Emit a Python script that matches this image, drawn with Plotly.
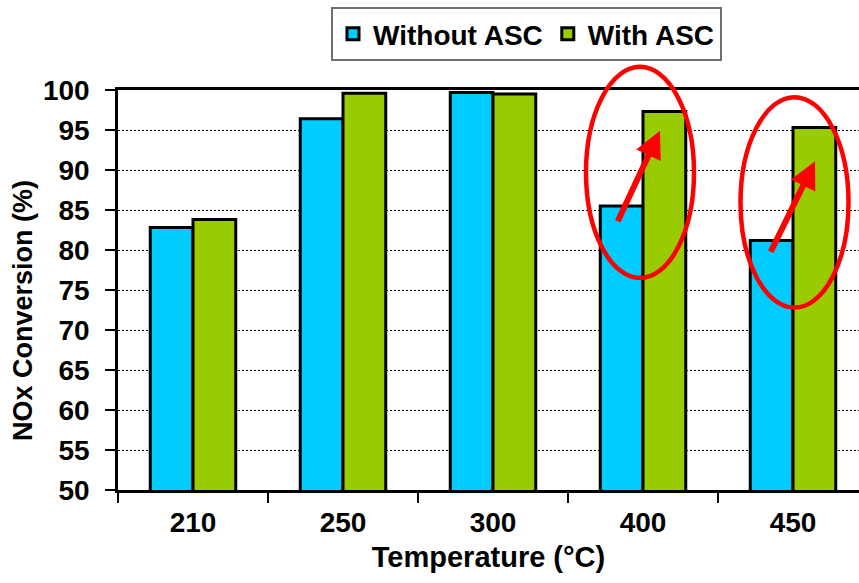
import plotly.graph_objects as go

# NOx conversion by temperature, with and without the ammonia slip catalyst
temperatures = ["210", "250", "300", "400", "450"]
without_asc = [82.8, 96.4, 99.7, 85.5, 81.2]
with_asc = [83.8, 99.6, 99.5, 97.3, 95.3]
y_ticks = list(range(50, 101, 5))

FONT = "Liberation Sans, Arial, sans-serif"
X_RANGE = [-0.5, 4.44]
Y_RANGE = [50, 100]


def to_paper_x(v):
    return (v - X_RANGE[0]) / (X_RANGE[1] - X_RANGE[0])


def to_paper_y(v):
    return (v - Y_RANGE[0]) / (Y_RANGE[1] - Y_RANGE[0])


fig = go.Figure()
fig.add_trace(go.Bar(
    x=temperatures, y=without_asc, name="Without ASC",
    marker=dict(color="#00CCFF", line=dict(color="black", width=3)),
))
fig.add_trace(go.Bar(
    x=temperatures, y=with_asc, name="With ASC",
    marker=dict(color="#99CC00", line=dict(color="black", width=3)),
))

# highlight the gain at the two hottest points: ring plus arrow
# (rings use paper coordinates so they may run past the top of the plot)
rings = [
    dict(x0=2.62, x1=3.34, y0=76.5, y1=102.9),
    dict(x0=3.65, x1=4.37, y0=72.8, y1=99.1),
]
for r in rings:
    fig.add_shape(
        type="circle", xref="paper", yref="paper", layer="above",
        x0=to_paper_x(r["x0"]), x1=to_paper_x(r["x1"]),
        y0=to_paper_y(r["y0"]), y1=to_paper_y(r["y1"]),
        line=dict(color="#FF0000", width=4.5),
    )

arrows = [
    dict(ax=2.827, ay=83.4, x=3.113, y=94.9),
    dict(ax=3.847, ay=79.6, x=4.147, y=91.1),
]
for a in arrows:
    fig.add_annotation(
        xref="x", yref="y", axref="x", ayref="y", text="",
        showarrow=True, arrowhead=2, arrowsize=0.9, arrowwidth=6,
        arrowcolor="#FF0000", standoff=0, **a,
    )

# y-axis title
fig.add_annotation(
    xref="paper", yref="paper", x=-95 / 741, y=0.4475,
    xanchor="center", yanchor="middle", textangle=-90, showarrow=False,
    text="NOx Conversion (%)",
    font=dict(size=27, family=FONT, weight="bold", color="black"),
)

fig.update_layout(
    width=859, height=583,
    margin=dict(l=118, r=0, t=90, b=93),
    paper_bgcolor="white", plot_bgcolor="white",
    barmode="group", bargap=0.43, bargroupgap=0,
    font=dict(family=FONT, color="black"),
    legend=dict(
        orientation="h", x=(331 - 118) / 741, xanchor="left",
        xref="paper", yref="paper",
        y=(490 - 61) / 400, yanchor="bottom",
        bgcolor="white", bordercolor="#707070", borderwidth=2,
        font=dict(size=28, family=FONT, weight="bold"),
        itemwidth=30, tracegroupgap=0,
    ),
    showlegend=True,
)

fig.update_xaxes(
    type="category", range=X_RANGE,
    tickson="boundaries", ticks="outside", ticklen=10, tickwidth=1.5,
    tickcolor="black",
    showline=True, linecolor="black", linewidth=2.5, mirror=True,
    showgrid=False,
    tickfont=dict(size=28, family=FONT, weight="bold"),
    ticklabelstandoff=6,
    title=dict(text="Temperature (°C)", standoff=10,
               font=dict(size=29, family=FONT, weight="bold")),
)
fig.update_yaxes(
    range=Y_RANGE, tickvals=y_ticks,
    ticks="outside", ticklen=10, tickwidth=1.5, tickcolor="black",
    showline=True, linecolor="black", linewidth=2.5,
    showgrid=True, gridcolor="black", gridwidth=1, griddash="2px,2px",
    zeroline=False,
    tickfont=dict(size=28, family=FONT, weight="bold"),
    ticklabelstandoff=10,
)

fig.write_html("out.html")
